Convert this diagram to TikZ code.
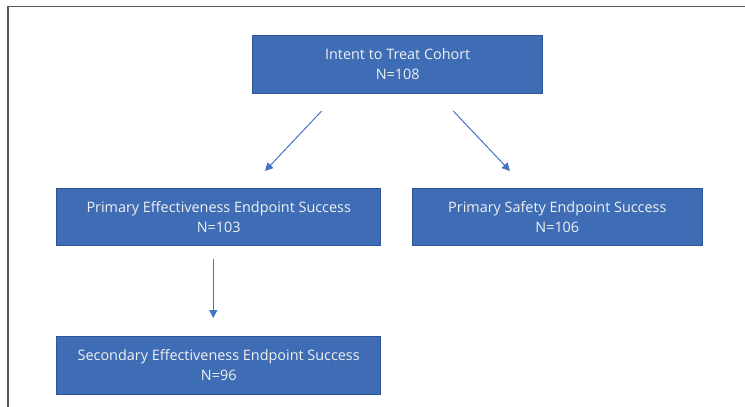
\documentclass[tikz,border=0pt]{standalone}
\usepackage{fontspec}
\setmainfont{Open Sans}
\usetikzlibrary{arrows.meta}

\definecolor{boxblue}{RGB}{62,109,181}
\definecolor{boxedge}{RGB}{47,85,151}
\definecolor{arrowblue}{RGB}{68,114,196}
\definecolor{framegray}{RGB}{90,90,90}

\begin{document}
\begin{tikzpicture}[x=1pt, y=-1pt]
    % Styles
    \tikzset{
      flowbox/.style={rectangle, draw=boxedge, fill=boxblue, line width=0.8pt,
        text=white!94!black, align=center, inner sep=0pt,
        font=\fontsize{14.4}{20}\selectfont},
      flowarrow/.style={draw=arrowblue, line width=1pt,
        -{Triangle[width=8pt,length=8pt]}}
    }
    \useasboundingbox (0,0) rectangle (745,407);

    % --- Frame (cut off at right and bottom) ---
    \draw[framegray, line width=1.5pt] (8,407) -- (8,6.5) -- (745,6.5);

    % --- Level 0: cohort ---
    \node[flowbox, minimum width=290pt, minimum height=58pt] (itt) at (397.7,64.2)
      {Intent to Treat Cohort\\N=108};

    % --- Level 1: primary endpoints ---
    \node[flowbox, minimum width=324pt, minimum height=57.5pt] (pee) at (218.7,217)
      {Primary Effectiveness Endpoint Success\\N=103};
    \node[flowbox, minimum width=290pt, minimum height=57.5pt] (pse) at (557.3,217)
      {Primary Safety Endpoint Success\\N=106};

    % --- Level 2: secondary endpoint ---
    \node[flowbox, minimum width=324pt, minimum height=58pt] (see) at (218.7,365)
      {Secondary Effectiveness Endpoint Success\\N=96};

    % Arrow end points (arrows float between the boxes)
    \coordinate (itt_l) at (321.7,111);
    \coordinate (pee_t) at (265,171);
    \coordinate (itt_r) at (453.3,111);
    \coordinate (pse_t) at (510,171);
    \coordinate (pee_b) at (213.3,259);
    \coordinate (see_t) at (213.3,318);

    % Arrows
    \draw[flowarrow] (itt_l) -- (pee_t);
    \draw[flowarrow] (itt_r) -- (pse_t);
    \draw[flowarrow] (pee_b) -- (see_t);
\end{tikzpicture}
\end{document}
